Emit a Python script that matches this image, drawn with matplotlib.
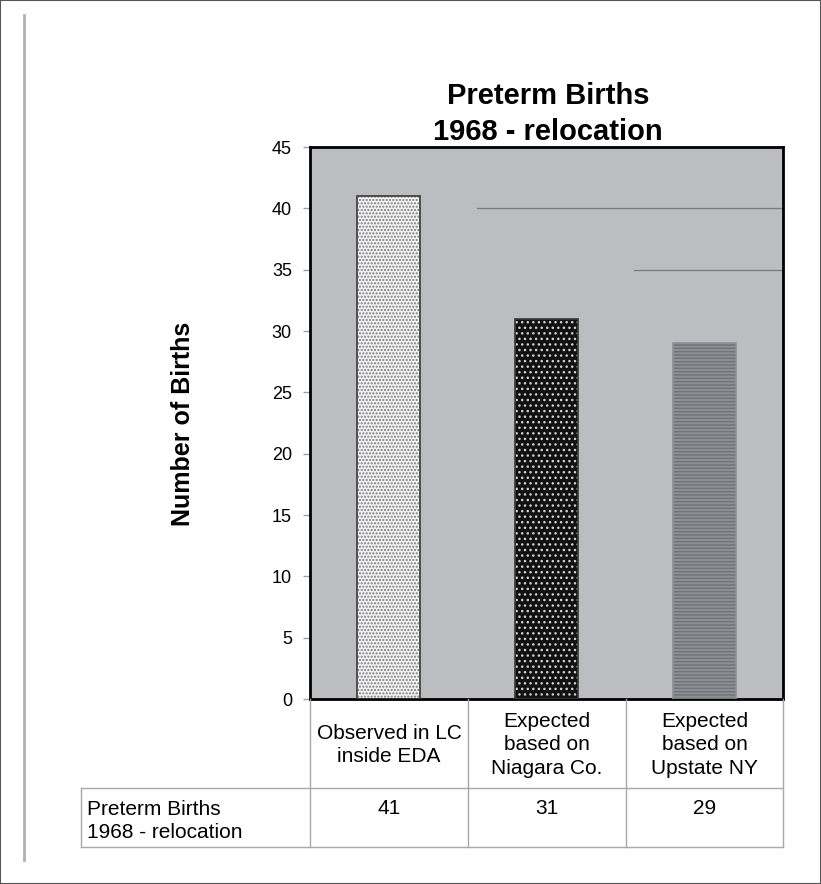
import matplotlib.pyplot as plt
from matplotlib.lines import Line2D
from matplotlib.patches import Rectangle

# datos de la tabla / barras
categories = ['Observed in LC\ninside EDA', 'Expected\nbased on\nNiagara Co.', 'Expected\nbased on\nUpstate NY']
births = [41, 31, 29]
row_label = 'Preterm Births\n1968 - relocation'
title = 'Preterm Births\n1968 - relocation'
yticks = [0, 5, 10, 15, 20, 25, 30, 35, 40, 45]

plt.rcParams['font.family'] = ['Liberation Sans', 'DejaVu Sans']
plt.rcParams['hatch.linewidth'] = 1.0

W, H = 821, 884
fig = plt.figure(figsize=(W / 100, H / 100), dpi=100)
fig.patch.set_facecolor('white')

# zona del grafico en pixeles
x0, x1, ytop, ybot = 310, 783, 147, 699
ax = fig.add_axes([x0 / W, 1 - ybot / H, (x1 - x0) / W, (ybot - ytop) / H])
ax.set_facecolor('#bcbdc0')

# estilos de cada barra (textura de la imagen original)
faces = ['#f2f2f2', '#111111', '#8d9095']
hatch_cols = ['#7a7a7a', '#d0d0d0', '#6f7378']
hatches = ['.....', '...', '-----']
xs = list(range(len(births)))
for i, v in enumerate(births):
    ax.bar(xs[i], v, width=0.4, color=faces[i], edgecolor=hatch_cols[i],
           hatch=hatches[i], linewidth=0, zorder=2)
    ax.bar(xs[i], v, width=0.4, fill=False, edgecolor='#3a3a3a' if i < 2 else '#8d9095',
           linewidth=1.2, zorder=3)

ax.set_xlim(-0.5, 2.5)
ax.set_ylim(0, 45)
ax.set_yticks(yticks)
ax.set_xticks([])
ax.tick_params(axis='y', length=5, width=1, color='#a0a0a0', labelsize=13, pad=8)
for s in ax.spines.values():
    s.set_color('black')
    s.set_linewidth(2)

# restos de lineas de cuadricula en la imagen escaneada
ax.axhline(40, xmin=0.353, xmax=1, color='#7a7a7a', lw=0.9, zorder=1)
ax.axhline(35, xmin=0.685, xmax=1, color='#7a7a7a', lw=0.9, zorder=1)

fig.text(548 / W, 1 - 114 / H, title, ha='center', va='center', fontsize=21,
         fontweight='bold', linespacing=1.35)
fig.text(183 / W, 1 - 424 / H, 'Number of Births', ha='center', va='center',
         rotation=90, fontsize=18, fontweight='bold')

# tabla de datos debajo del grafico
cols = [310, 468, 626, 783]
r_head, r_mid, r_bot = 699, 788, 847
lab_left = 81
tcol = '#a8a8a8'

def fline(xa, ya, xb, yb, c=tcol, lw=1):
    fig.add_artist(Line2D([xa / W, xb / W], [1 - ya / H, 1 - yb / H], color=c, lw=lw))

for cx in cols:
    fline(cx, r_head, cx, r_bot)
fline(lab_left, r_mid, lab_left, r_bot)
fline(lab_left, r_mid, cols[-1], r_mid)
fline(lab_left, r_bot, cols[-1], r_bot)

for i, cat in enumerate(categories):
    cx = (cols[i] + cols[i + 1]) / 2
    fig.text(cx / W, 1 - 745 / H, cat, ha='center', va='center',
             fontsize=15, linespacing=1.3)
    fig.text(cx / W, 1 - 808 / H, str(births[i]), ha='center', va='center', fontsize=15)

fig.text(87 / W, 1 - 821 / H, row_label, ha='left', va='center', fontsize=15,
         linespacing=1.25)

# linea vertical gris a la izquierda y marco exterior
fline(24, 15, 24, 860, c='#b0b0b0', lw=2)
fig.add_artist(Rectangle((0, 0), 1, 1, transform=fig.transFigure, fill=False,
                         edgecolor='#555555', lw=1.5))

fig.savefig('out.png', dpi=100)
